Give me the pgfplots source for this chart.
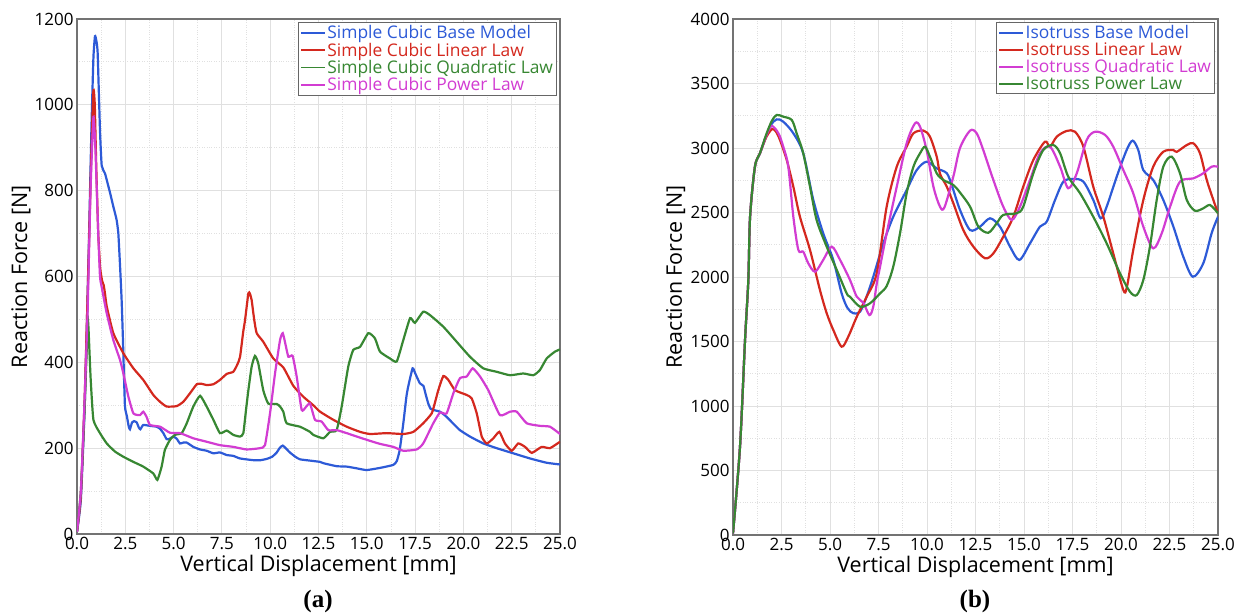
\documentclass[border=0pt]{standalone}
\usepackage{fontspec}
\setmainfont{Open Sans}
\newfontfamily\capfont{Liberation Serif}
\usepackage{pgfplots}
\pgfplotsset{compat=1.18}
\definecolor{cblue}{RGB}{45,90,215}
\definecolor{cred}{RGB}{212,40,30}
\definecolor{cgreen}{RGB}{55,135,50}
\definecolor{cpink}{RGB}{210,60,210}
\pgfplotsset{
  myax/.style={
    scale only axis, xmin=0, xmax=25, ymin=0,
    xtick={0,2.5,...,25}, minor x tick num=1, minor y tick num=1,
    grid=both,
    major grid style={black!12, line width=0.9pt},
    minor grid style={black!12, dotted, line width=0.9pt},
    axis line style={draw=black!55, line width=1.3pt},
    tick style={draw=none},
    tick label style={font=\fontsize{17}{20}\selectfont},
    x tick label style={/pgf/number format/.cd, fixed, fixed zerofill, precision=1, assume math mode=true},
    y tick label style={/pgf/number format/.cd, fixed, 1000 sep={}, assume math mode=true},
    label style={font=\fontsize{21.5}{24}\selectfont},
    xlabel={Vertical Displacement [mm]},
    ylabel={Reaction Force [N]},
    xlabel style={at={(axis description cs:0.5,-0.062)}, anchor=center},
    legend style={at={(1,1)}, anchor=north east, xshift=-3pt, yshift=-3pt,
      draw=black!60, line width=1pt, font=\fontsize{17.4}{19}\selectfont,
      inner xsep=2pt, inner ysep=3pt, row sep=2.6pt,
      nodes={inner ysep=0pt, inner xsep=1.5pt},
      cells={anchor=west}},
    legend image code/.code={\draw[#1,line width=1.6pt] (0pt,0pt) -- (24pt,0pt);},
    every axis plot/.append style={line width=2.2pt},
  }
}
\begin{document}
\begin{tikzpicture}
\useasboundingbox (0,0) rectangle (1246pt,615pt);
\begin{axis}[myax, at={(77pt,81pt)}, anchor=south west, width=483pt, height=515pt,
  ymax=1200, ytick={0,200,...,1200},
  ylabel style={at={(axis description cs:-0.116,0.5)}, anchor=center},
  legend entries={\textcolor{cblue}{Simple Cubic Base Model},\textcolor{cred}{Simple Cubic Linear Law},\textcolor{cgreen}{Simple Cubic Quadratic Law},\textcolor{cpink}{Simple Cubic Power Law}}]
\addplot[cblue, smooth, tension=0.3] coordinates {
(0,5)(0.2,80)(0.4,300)(0.6,650)(0.75,950)(0.85,1110)(0.93,1160)(1.0,1150)(1.07,1120)(1.19,940)(1.28,858)(1.45,840)(1.71,795)(1.88,763)(2.05,732)(2.14,700)(2.23,623)(2.31,545)(2.38,450)(2.48,300)(2.58,275)(2.68,250)(2.74,244)(2.85,260)(2.95,263)(3.09,260)(3.2,248)(3.28,244)(3.43,254)(3.77,252)(4.12,250)(4.3,245)(4.47,235)(4.64,221)(4.8,222)(4.98,227)(5.16,222)(5.33,211)(5.5,213)(5.68,213)(6.02,203)(6.37,197)(6.71,194)(7.06,188)(7.4,190)(7.75,184)(8.09,182)(8.44,176)(9.13,172)(9.5,172)(9.82,175)(10.1,180)(10.34,190)(10.5,201)(10.65,206)(10.8,200)(11.02,190)(11.3,180)(11.54,174)(12.06,171)(12.58,168)(12.75,165)(13.44,158)(13.96,157)(14.48,153)(14.99,149)(15.68,154)(16.37,161)(16.55,170)(16.7,195)(16.89,258)(17.05,320)(17.15,345)(17.37,386)(17.5,375)(17.58,367)(17.75,351)(17.93,345)(18.05,325)(18.18,304)(18.3,292)(18.44,289)(18.79,285)(19.13,273)(19.5,256)(19.82,242)(20.34,227)(21.03,211)(21.72,200)(22.58,188)(23.45,176)(24.31,166)(25,162)};
\addplot[cred, smooth, tension=0.3] coordinates {
(0,5)(0.2,90)(0.4,320)(0.6,640)(0.75,900)(0.85,1034)(0.92,1000)(1.0,850)(1.1,700)(1.2,620)(1.3,590)(1.38,580)(1.45,560)(1.54,530)(1.88,468)(2.4,421)(2.92,386)(3.43,359)(3.95,324)(4.3,308)(4.64,297)(5.16,298)(5.5,308)(5.85,328)(6.2,349)(6.45,350)(6.71,347)(7.06,349)(7.4,359)(7.75,373)(8.09,378)(8.3,395)(8.44,413)(8.6,470)(8.7,499)(8.87,561)(8.95,560)(9.04,545)(9.17,500)(9.3,468)(9.64,448)(10.16,409)(10.68,388)(11.2,345)(11.71,320)(12.23,300)(12.58,285)(13.27,266)(13.96,250)(14.65,238)(15.17,233)(16.03,235)(16.89,233)(17.41,238)(17.92,258)(18.36,281)(18.55,310)(18.7,335)(18.96,368)(19.22,359)(19.57,335)(20.17,324)(20.43,316)(20.69,281)(20.95,227)(21.21,211)(21.55,223)(21.86,238)(22.15,211)(22.5,194)(22.84,211)(23.19,203)(23.54,189)(24.05,203)(24.48,200)(25,215)};
\addplot[cgreen, smooth, tension=0.3] coordinates {
(0,5)(0.2,100)(0.4,300)(0.52,450)(0.58,491)(0.65,420)(0.71,359)(0.85,266)(1.19,235)(1.54,211)(1.97,192)(2.4,180)(2.92,168)(3.43,157)(3.95,141)(4.16,126)(4.38,157)(4.55,196)(4.81,219)(5.07,231)(5.42,235)(5.68,258)(6.02,297)(6.37,322)(6.71,297)(7.06,266)(7.4,235)(7.75,241)(8.09,231)(8.44,227)(8.61,235)(8.75,290)(8.87,335)(9.04,390)(9.21,415)(9.38,398)(9.64,335)(9.9,304)(10.34,303)(10.51,297)(10.68,285)(10.85,258)(11.54,250)(12.06,238)(12.23,231)(12.75,223)(13.1,238)(13.44,242)(13.7,297)(14.04,390)(14.3,429)(14.65,436)(15.08,468)(15.42,456)(15.68,425)(16.2,409)(16.55,402)(16.89,452)(17.24,503)(17.49,492)(17.92,518)(18.27,510)(18.96,483)(19.65,448)(20.34,413)(21.03,386)(21.72,378)(22.41,370)(23.1,374)(23.62,370)(23.96,382)(24.31,409)(24.74,425)(25,430)};
\addplot[cpink, smooth, tension=0.3] coordinates {
(0,5)(0.2,100)(0.4,320)(0.55,520)(0.7,800)(0.85,972)(0.95,900)(1.1,700)(1.19,600)(1.28,575)(1.54,514)(1.88,452)(2.23,405)(2.4,374)(2.66,320)(2.92,281)(3.26,277)(3.43,285)(3.6,273)(3.78,254)(4.3,250)(4.81,236)(5.33,235)(6.02,223)(6.71,215)(7.4,207)(8.09,203)(8.78,197)(9.47,200)(9.73,207)(9.99,281)(10.25,374)(10.51,452)(10.65,468)(10.8,440)(10.94,413)(11.16,415)(11.37,367)(11.63,289)(11.85,296)(12.06,304)(12.32,266)(12.66,262)(13.01,242)(13.44,242)(13.96,235)(14.48,227)(15.17,217)(15.68,210)(16.37,203)(16.89,194)(17.58,197)(17.92,211)(18.44,258)(18.79,283)(19.13,281)(19.48,328)(19.82,363)(20.17,367)(20.48,386)(20.86,367)(21.29,335)(21.89,277)(22.41,285)(22.76,285)(23.28,258)(23.96,252)(24.48,250)(25,233)};
\end{axis}
\begin{axis}[myax, at={(733pt,80pt)}, anchor=south west, width=485pt, height=516pt,
  ymax=4000, ytick={0,500,...,4000},
  ylabel style={at={(axis description cs:-0.118,0.5)}, anchor=center},
  legend entries={\textcolor{cblue}{Isotruss Base Model},\textcolor{cred}{Isotruss Linear Law},\textcolor{cpink}{Isotruss Quadratic Law},\textcolor{cgreen}{Isotruss Power Law}}]
\addplot[cblue, smooth, tension=0.5] coordinates {
(0,13)(0.36,684)(0.62,1511)(0.79,1977)(0.88,2467)(1.13,2855)(1.39,2959)(1.91,3165)(2.25,3222)(2.59,3204)(3.11,3114)(3.62,2959)(4.14,2597)(4.65,2339)(5.17,2132)(5.6,1873)(5.9,1760)(6.2,1719)(6.55,1731)(6.89,1850)(7.23,2002)(7.75,2261)(8.26,2467)(8.95,2674)(9.47,2829)(9.98,2894)(10.5,2842)(11.02,2804)(11.3,2700)(11.7,2520)(12.22,2364)(12.73,2390)(13.25,2455)(13.76,2390)(14.28,2235)(14.76,2132)(15.31,2261)(15.82,2390)(16.17,2429)(16.6,2597)(17.03,2739)(17.54,2760)(18.06,2739)(18.57,2597)(18.95,2455)(19.26,2545)(19.78,2778)(20.29,2984)(20.6,3057)(20.89,2984)(21.15,2829)(21.66,2752)(22.18,2597)(22.7,2390)(23.21,2157)(23.7,2002)(24.24,2106)(24.67,2339)(25,2467)};
\addplot[cred, smooth, tension=0.5] coordinates {
(0,13)(0.36,684)(0.62,1511)(0.79,1977)(0.88,2467)(1.13,2855)(1.39,2959)(1.7,3080)(2.0,3145)(2.2,3130)(2.42,3062)(2.77,2907)(3.11,2700)(3.45,2467)(3.97,2209)(4.48,1900)(4.83,1719)(5.17,1589)(5.6,1460)(5.94,1537)(6.38,1692)(6.89,1847)(7.41,2030)(7.92,2545)(8.44,2855)(8.95,3010)(9.3,3114)(9.81,3135)(10.15,3088)(10.5,2933)(10.67,2800)(11.02,2700)(11.36,2571)(11.87,2364)(12.39,2235)(12.99,2145)(13.42,2183)(13.93,2312)(14.45,2467)(14.96,2700)(15.48,2907)(16.08,3049)(16.34,3010)(16.69,3088)(17.2,3132)(17.63,3126)(18.06,3010)(18.57,2700)(19.09,2467)(19.6,2183)(20.12,1899)(20.3,1920)(20.63,2209)(21.15,2597)(21.66,2855)(22.18,2971)(22.7,2984)(22.87,2970)(23.39,3023)(23.73,3036)(24.07,2959)(24.42,2752)(24.76,2597)(25,2494)};
\addplot[cpink, smooth, tension=0.5] coordinates {
(0,13)(0.36,684)(0.62,1511)(0.79,1977)(0.88,2467)(1.13,2855)(1.39,2959)(1.7,3090)(1.99,3171)(2.34,3114)(2.59,3010)(2.85,2855)(3.11,2467)(3.37,2209)(3.62,2196)(3.88,2106)(4.23,2041)(4.65,2132)(5.09,2235)(5.52,2132)(6.03,1977)(6.38,1847)(6.72,1800)(7.03,1705)(7.23,1770)(7.41,1950)(7.58,2080)(7.92,2339)(8.44,2700)(8.95,3036)(9.38,3191)(9.64,3165)(9.98,2984)(10.33,2700)(10.67,2545)(10.9,2540)(11.36,2780)(11.7,3000)(12.22,3135)(12.56,3114)(12.9,2984)(13.42,2752)(13.93,2545)(14.37,2442)(14.79,2545)(15.31,2752)(15.82,2959)(16.34,3010)(16.86,2855)(17.28,2688)(17.72,2804)(18.23,3062)(18.66,3126)(19.18,3101)(19.6,3010)(20.12,2829)(20.63,2649)(21.15,2390)(21.66,2222)(22.1,2339)(22.53,2545)(23.04,2739)(23.73,2765)(24.24,2804)(24.67,2855)(25,2855)};
\addplot[cgreen, smooth, tension=0.5] coordinates {
(0,13)(0.36,684)(0.62,1511)(0.79,1977)(0.88,2467)(1.13,2855)(1.39,2959)(1.7,3100)(2.0,3210)(2.25,3256)(2.59,3243)(3.03,3217)(3.28,3114)(3.62,2959)(3.97,2700)(4.31,2442)(4.83,2235)(5.35,2054)(5.86,1873)(6.03,1847)(6.55,1770)(7.06,1796)(7.58,1873)(7.92,1930)(8.26,2080)(8.61,2339)(8.95,2649)(9.3,2855)(9.64,2959)(9.9,3010)(10.15,2933)(10.5,2804)(10.84,2752)(11.36,2713)(11.7,2655)(12.22,2545)(12.65,2390)(13.16,2343)(13.59,2416)(13.93,2481)(14.62,2494)(14.96,2545)(15.48,2804)(15.99,2984)(16.51,3023)(16.86,2959)(17.28,2778)(17.89,2649)(18.57,2467)(19.26,2261)(19.95,2028)(20.46,1886)(20.81,1860)(21.15,1977)(21.49,2235)(21.84,2597)(22.18,2855)(22.61,2933)(23.04,2804)(23.39,2597)(23.81,2514)(24.24,2532)(24.59,2558)(25,2494)};
\end{axis}
\node[font=\capfont\bfseries\fontsize{25}{28}\selectfont] at (318pt,14pt) {(a)};
\node[font=\capfont\bfseries\fontsize{25}{28}\selectfont] at (975pt,14pt) {(b)};
\end{tikzpicture}
\end{document}
